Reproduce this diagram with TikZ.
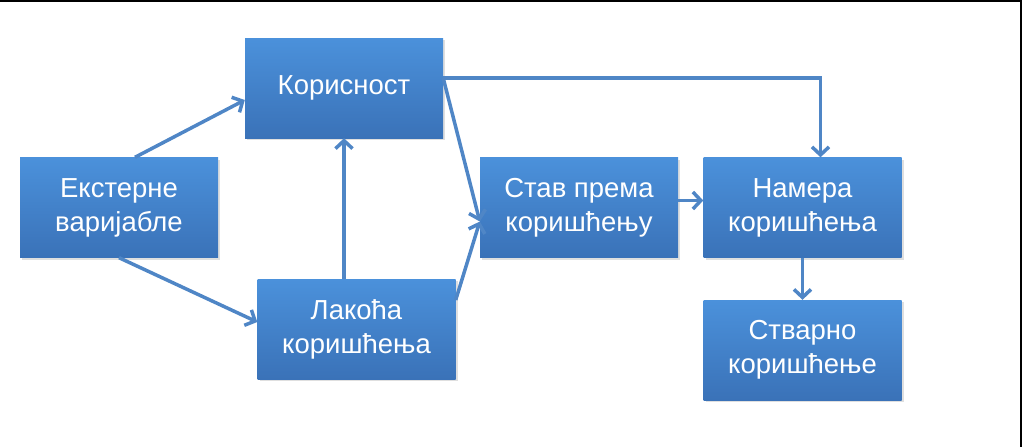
\documentclass[tikz,border=0pt]{standalone}
\usepackage{fontspec}
\setmainfont{Liberation Sans}
\usepackage{xcolor}
\usetikzlibrary{arrows.meta, positioning, calc, shadows}

\definecolor{boxtop}{HTML}{4B91DB}
\definecolor{boxbot}{HTML}{3A72B8}
\definecolor{arrowblue}{HTML}{4F86C6}

\begin{document}
\begin{tikzpicture}[
    x=1pt, y=-1pt,
    box/.style={minimum width=198pt, minimum height=100pt, inner sep=2pt,
      top color=boxtop, bottom color=boxbot, draw=none, text=white,
      align=center, font=\fontsize{27.5}{34}\selectfont,
      drop shadow={opacity=0.25, shadow xshift=2pt, shadow yshift=-2pt}},
    link/.style={draw=arrowblue, line width=3.5pt,
      -{Straight Barb[length=8pt, width=17pt, line width=3.5pt]}},
  ]
    \useasboundingbox (0,0) rectangle (1023,447);
    % ── frame ──
    \draw[line width=1.5pt] (0,1) -- (1021,1) -- (1021,447);

    % ── boxes ──
    \node[box] (ext) at (119,207.5) {Екстерне\\варијабле};
    \node[box] (koris) at (344,88) {Корисност};
    \node[box] (lak) at (356.5,329) {Лакоћа\\коришћења};
    \node[box] (stav) at (579,207.5) {Став према\\коришћењу};
    \node[box] (namera) at (802.5,207.5) {Намера\\коришћења};
    \node[box] (stvarno) at (802.5,350) {Стварно\\коришћење};

    % ── connectors ──
    \draw[link] ([xshift=16pt]ext.north) -- ([yshift=-12pt]koris.west);
    \draw[link] (ext.south) -- ([yshift=7pt]lak.west);
    \draw[link] (koris.south |- lak.north) -- (koris.south);
    \draw[link] ([yshift=10pt]koris.east) -- ([yshift=-14pt]stav.west);
    \draw[link] ([yshift=29pt]lak.east) -- ([yshift=-14pt]stav.west);
    \draw[link] ([yshift=7pt]stav.east) -- ([yshift=7pt]namera.west);
    \draw[link] ([yshift=10pt]koris.east) -| ([xshift=18pt]namera.north);
    \draw[link] (namera.south) -- (stvarno.north);
\end{tikzpicture}
\end{document}
